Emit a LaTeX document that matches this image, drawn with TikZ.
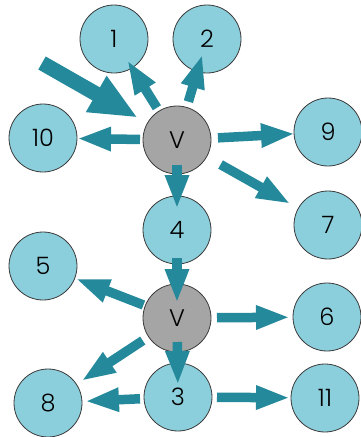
\documentclass[tikz,border=0pt]{standalone}
\usepackage{fontspec}
\setmainfont{Poppins}[UprightFont=* Light]
\usetikzlibrary{arrows.meta}
\definecolor{tealarr}{HTML}{24899B}
\definecolor{cfill}{HTML}{8CCFDC}
\definecolor{vfill}{HTML}{A5A5A5}
\definecolor{cline}{HTML}{3A3A3A}
\tikzset{
  nd/.style={circle, draw=cline, line width=0.8pt, fill=cfill, minimum size=68pt, inner sep=0pt, font=\fontsize{24}{24}\selectfont},
  vnd/.style={nd, fill=vfill},
  arr/.style={draw=tealarr, line width=9.5pt, -{Triangle[length=34pt,width=22pt]}, fill=tealarr},
  bigarr/.style={draw=tealarr, line width=15pt, -{Triangle[length=48pt,width=38pt]}, fill=tealarr}
}
\begin{document}
\begin{tikzpicture}[x=1pt,y=-1pt]
\useasboundingbox (0,0) rectangle (360,437);
\node[nd] (n1) at (114,39) {1};
\node[nd] (n2) at (207,39) {2};
\node[nd] (n10) at (43,138) {10};
\node[vnd] (V1) at (177,140) {V};
\node[nd] (n9) at (328,132) {9};
\node[nd] (n7) at (328,225) {7};
\node[nd] (n4) at (177,230) {4};
\node[nd] (n5) at (43,266) {5};
\node[vnd] (V2) at (177,318) {V};
\node[nd] (n6) at (327,317) {6};
\node[nd] (n8) at (48,403) {8};
\node[nd] (n3) at (178,397) {3};
\node[nd] (n11) at (325,398) {11};
\coordinate (in) at (42,63);

\draw[bigarr, shorten >=45pt] (in) -- (V1.center);
\draw[arr, shorten <=38pt, shorten >=25pt] (V1.center) -- (n1.center);
\draw[arr, shorten <=40pt, shorten >=16pt] (V1.center) -- (n2.center);
\draw[arr, shorten <=37pt, shorten >=34pt] (V1.center) -- (n10.center);
\draw[arr, shorten <=41pt, shorten >=33pt] (V1.center) -- (n9.center);
\draw[arr, shorten <=50pt, shorten >=43pt] (V1.center) -- (n7.center);
\draw[arr, shorten <=25pt, shorten >=21pt] (V1.center) -- (n4.center);
\draw[arr, shorten <=28pt, shorten >=15pt] (n4.center) -- (V2.center);
\draw[arr, shorten <=36pt, shorten >=35pt] (V2.center) -- (n5.center);
\draw[arr, shorten <=40pt, shorten >=37pt] (V2.center) -- (n6.center);
\draw[arr, shorten <=41pt, shorten >=40pt] (V2.center) -- (n8.center);
\draw[arr, shorten <=24pt, shorten >=12pt] (V2.center) -- (n3.center);
\draw[arr, shorten <=38pt, shorten >=37pt] (n3.center) -- (n8.center);
\draw[arr, shorten <=39pt, shorten >=35pt] (n3.center) -- (n11.center);
\end{tikzpicture}
\end{document}
